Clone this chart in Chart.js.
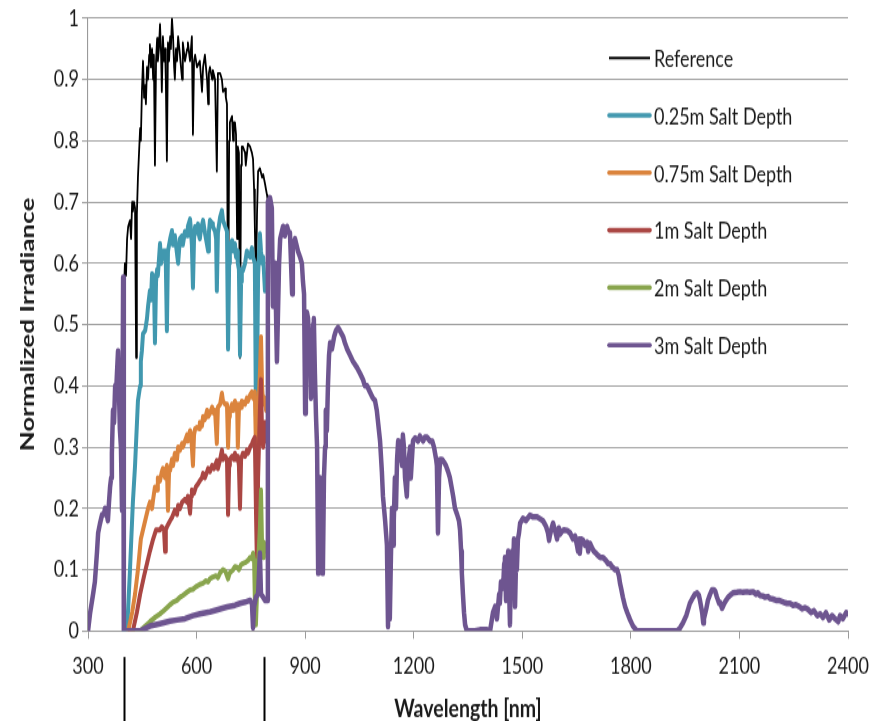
<!DOCTYPE html>
<html>
<head>
<meta charset="utf-8">
<script src="https://cdn.jsdelivr.net/npm/chart.js@4.4.1/dist/chart.umd.min.js"></script>
<style>
  html, body { margin: 0; padding: 0; background: #fff; overflow: hidden; }
  #outer { width: 881px; height: 721px; overflow: hidden; }
  #wrap { width: 881px; height: 550px; transform: scaleY(1.3109); transform-origin: 0 0; }
</style>
</head>
<body>
<div id="outer"><div id="wrap"><canvas id="c" width="881" height="550"></canvas></div></div>
<script>
// ---------- DATA ----------
const seriesLabels = ["Reference", "0.25m Salt Depth", "0.75m Salt Depth", "1m Salt Depth", "2m Salt Depth", "3m Salt Depth"];
const xTickLabels = ["300", "600", "900", "1200", "1500", "1800", "2100", "2400"];
const yTickLabels = ["0", "0.1", "0.2", "0.3", "0.4", "0.5", "0.6", "0.7", "0.8", "0.9", "1"];
const xTitle = "Wavelength [nm]";
const yTitle = "Normalized Irradiance";
const markerNm = [400, 785];

const refNm = [399,402,405,408,411,416,419,422,424,427,430,433,435,438,441,444,446,449,452,455,458,460,463,466,469,471,474,477,480,482,485,488,491,493,496,499,502,504,507,510,513,515,518,521,524,527,529,532,535,538,540,543,546,549,554,560,562,568,574,576,582,587,590,593,596,601,609,615,618,623,629,632,634,637,643,645,651,656,659,665,670,673,679,681,684,687,690,692,698,701,703,706,709,712,714,717,720,723,725,728,734,736,742,748,753,756,759,761,764,767,770,775,781,784,789,792,795,797];
const refVal = [0.55,0.60,0.58,0.64,0.66,0.67,0.64,0.70,0.685,0.70,0.69,0.446,0.68,0.74,0.78,0.82,0.80,0.88,0.93,0.87,0.89,0.86,0.92,0.90,0.94,0.957,0.92,0.95,0.90,0.94,0.76,0.93,0.967,0.93,0.95,0.99,0.94,0.88,0.97,0.93,0.95,0.90,0.767,0.96,0.93,0.97,0.95,1.0,0.97,0.92,0.90,0.95,0.93,0.97,0.94,0.90,0.96,0.93,0.95,0.96,0.93,0.97,0.81,0.93,0.94,0.92,0.93,0.88,0.92,0.94,0.90,0.86,0.91,0.92,0.90,0.915,0.90,0.75,0.91,0.91,0.90,0.88,0.885,0.87,0.86,0.458,0.80,0.83,0.84,0.80,0.83,0.83,0.81,0.64,0.79,0.78,0.446,0.76,0.79,0.79,0.78,0.76,0.795,0.79,0.78,0.77,0.72,0.66,0.56,0.68,0.75,0.755,0.74,0.745,0.73,0.72,0.71,0.70];

const s025Nm = [399,408,416,424,430,438,444,446,449,452,458,463,466,471,474,477,480,482,485,488,491,493,499,502,504,507,513,515,518,521,527,532,535,540,543,549,554,560,562,568,574,576,582,585,587,590,593,596,601,604,607,609,612,618,623,629,632,634,637,643,645,651,654,656,659,665,670,673,679,684,687,690,692,698,701,706,709,712,714,717,720,723,725,728,734,739,742,748,753,756,761,764,767,770,775,778,781,784,789,792,795];
const s025Val = [0.0,0.0,0.10,0.21,0.27,0.376,0.40,0.44,0.458,0.485,0.49,0.51,0.53,0.555,0.54,0.583,0.56,0.58,0.47,0.57,0.59,0.58,0.632,0.60,0.60,0.62,0.62,0.60,0.49,0.62,0.64,0.653,0.63,0.645,0.63,0.60,0.64,0.645,0.63,0.652,0.645,0.66,0.672,0.65,0.63,0.56,0.64,0.66,0.65,0.664,0.645,0.64,0.655,0.67,0.65,0.63,0.62,0.65,0.67,0.665,0.66,0.652,0.64,0.555,0.65,0.675,0.686,0.67,0.66,0.652,0.46,0.60,0.63,0.637,0.62,0.632,0.61,0.62,0.60,0.59,0.45,0.57,0.59,0.588,0.60,0.62,0.615,0.61,0.625,0.61,0.60,0.35,0.40,0.58,0.648,0.62,0.60,0.61,0.555,0.57,0.56];

const s075Nm = [411,422,430,438,446,458,466,471,477,480,485,491,493,499,504,507,513,518,521,524,527,532,535,540,546,549,554,560,562,568,574,576,582,585,590,593,596,601,607,609,615,618,623,629,632,637,643,648,651,656,659,665,670,673,679,684,687,690,692,698,701,706,709,712,714,717,720,723,725,734,739,742,748,753,756,761,764,767,770,775,778,781,784,789,792,795];
const s075Val = [0.0,0.03,0.06,0.10,0.15,0.18,0.20,0.21,0.20,0.215,0.235,0.23,0.25,0.245,0.26,0.265,0.25,0.27,0.197,0.26,0.262,0.28,0.27,0.29,0.28,0.30,0.295,0.306,0.30,0.31,0.32,0.31,0.327,0.32,0.27,0.32,0.33,0.332,0.33,0.34,0.335,0.35,0.345,0.36,0.35,0.355,0.365,0.355,0.36,0.306,0.365,0.37,0.388,0.375,0.37,0.37,0.30,0.35,0.36,0.37,0.36,0.375,0.36,0.37,0.30,0.36,0.37,0.365,0.375,0.37,0.38,0.375,0.385,0.39,0.38,0.39,0.30,0.22,0.35,0.42,0.48,0.40,0.37,0.38,0.36,0.37];

const s1Nm = [416,424,435,444,455,463,471,480,488,499,504,510,513,515,518,527,532,540,546,549,554,560,568,574,576,582,585,587,593,598,604,609,615,618,623,629,632,637,643,648,651,656,659,665,670,673,679,684,687,690,692,698,703,706,709,714,717,720,723,728,734,739,742,748,753,756,761,764,767,770,775,778,781,784,789,792,795];
const s1Val = [0.0,0.0,0.03,0.06,0.09,0.11,0.13,0.15,0.165,0.165,0.17,0.165,0.13,0.165,0.17,0.18,0.185,0.197,0.19,0.205,0.20,0.21,0.215,0.21,0.22,0.192,0.22,0.23,0.225,0.235,0.24,0.245,0.25,0.257,0.25,0.26,0.265,0.26,0.27,0.265,0.27,0.278,0.265,0.28,0.295,0.28,0.285,0.28,0.19,0.27,0.28,0.285,0.28,0.29,0.28,0.285,0.27,0.20,0.28,0.29,0.285,0.295,0.29,0.30,0.305,0.31,0.316,0.20,0.10,0.25,0.36,0.41,0.32,0.30,0.34,0.31,0.32];

const s2Nm = [424,444,458,471,485,499,507,518,527,535,546,554,562,571,582,590,598,609,618,626,632,637,645,654,659,665,673,679,687,692,701,706,712,717,723,728,736,742,748,753,756,759,761,764,767,770,775,778,781,784,786,789,792,795];
const s2Val = [0.0,0.0,0.008,0.015,0.022,0.028,0.032,0.038,0.043,0.047,0.05,0.055,0.058,0.062,0.067,0.068,0.072,0.076,0.078,0.082,0.08,0.085,0.088,0.09,0.087,0.095,0.10,0.098,0.085,0.095,0.10,0.105,0.104,0.10,0.108,0.11,0.112,0.115,0.12,0.118,0.127,0.115,0.05,0.01,0.06,0.11,0.17,0.23,0.14,0.12,0.145,0.13,0.14,0.14];

const s3Nm = [300,306,314,319,325,328,333,339,344,347,352,355,358,361,364,366,369,372,375,377,380,383,386,388,391,394,397,399,416,444,471,499,527,546,568,590,609,637,659,684,706,720,734,748,753,756,759,764,770,775,778,784,789,795,797,803,808,811,817,822,828,831,839,844,850,855,858,864,866,872,880,886,891,894,897,900,902,905,908,913,916,919,922,924,927,930,933,936,938,941,944,946,949,952,955,957,960,963,966,969,974,980,985,991,996,1005,1010,1016,1024,1032,1043,1052,1060,1065,1071,1079,1087,1093,1098,1107,1112,1115,1121,1126,1129,1132,1134,1137,1140,1143,1145,1148,1151,1154,1157,1159,1162,1168,1170,1173,1176,1181,1184,1190,1192,1198,1204,1212,1217,1226,1231,1237,1245,1251,1256,1262,1264,1267,1270,1273,1278,1284,1289,1295,1300,1306,1309,1314,1320,1325,1328,1331,1333,1336,1339,1342,1347,1369,1383,1403,1411,1419,1425,1430,1436,1438,1441,1447,1450,1452,1455,1461,1466,1469,1472,1474,1477,1480,1483,1485,1488,1491,1494,1502,1510,1521,1530,1541,1549,1557,1566,1571,1574,1577,1582,1585,1590,1596,1601,1604,1610,1615,1624,1632,1640,1646,1651,1654,1657,1659,1662,1668,1673,1679,1682,1687,1693,1698,1706,1715,1723,1731,1737,1742,1748,1756,1762,1767,1770,1773,1778,1784,1790,1798,1806,1817,1853,1895,1928,1936,1944,1953,1958,1963,1972,1977,1983,1988,1991,1997,2000,2002,2008,2013,2019,2024,2030,2033,2038,2044,2047,2052,2058,2063,2069,2074,2082,2093,2102,2110,2121,2129,2138,2146,2151,2157,2165,2171,2179,2185,2193,2201,2209,2218,2226,2231,2240,2248,2256,2265,2273,2281,2290,2298,2306,2315,2323,2331,2339,2348,2356,2364,2373,2378,2386,2395,2400];
const s3Val = [0.0,0.03,0.06,0.08,0.13,0.16,0.175,0.19,0.19,0.20,0.19,0.18,0.21,0.235,0.25,0.29,0.36,0.34,0.40,0.38,0.42,0.457,0.38,0.33,0.30,0.197,0.577,0.0,0.0,0.0,0.008,0.012,0.016,0.018,0.02,0.025,0.028,0.031,0.035,0.039,0.042,0.045,0.047,0.05,0.045,0.005,0.04,0.055,0.06,0.127,0.06,0.055,0.05,0.05,0.70,0.707,0.69,0.53,0.60,0.44,0.60,0.64,0.66,0.645,0.66,0.65,0.65,0.55,0.63,0.64,0.62,0.61,0.60,0.57,0.55,0.355,0.50,0.52,0.51,0.45,0.38,0.40,0.50,0.51,0.42,0.35,0.30,0.094,0.20,0.25,0.12,0.20,0.094,0.25,0.30,0.36,0.327,0.40,0.45,0.47,0.46,0.48,0.49,0.495,0.49,0.48,0.47,0.46,0.45,0.44,0.43,0.42,0.41,0.40,0.40,0.39,0.38,0.376,0.36,0.31,0.26,0.22,0.18,0.14,0.007,0.10,0.02,0.12,0.20,0.14,0.18,0.25,0.20,0.28,0.31,0.28,0.30,0.27,0.32,0.30,0.25,0.22,0.27,0.30,0.25,0.31,0.315,0.31,0.318,0.31,0.316,0.316,0.31,0.31,0.30,0.28,0.27,0.16,0.25,0.28,0.28,0.275,0.27,0.26,0.25,0.23,0.22,0.20,0.19,0.18,0.165,0.13,0.094,0.06,0.03,0.01,0.0,0.0,0.002,0.002,0.0,0.03,0.04,0.02,0.06,0.045,0.08,0.07,0.11,0.12,0.05,0.13,0.01,0.11,0.13,0.09,0.15,0.04,0.12,0.10,0.15,0.16,0.176,0.184,0.18,0.189,0.186,0.186,0.183,0.18,0.17,0.16,0.148,0.158,0.17,0.176,0.165,0.15,0.168,0.158,0.163,0.165,0.164,0.16,0.15,0.155,0.14,0.13,0.15,0.127,0.15,0.148,0.14,0.145,0.13,0.143,0.135,0.13,0.125,0.12,0.12,0.115,0.11,0.11,0.105,0.10,0.10,0.09,0.078,0.07,0.055,0.04,0.03,0.018,0.008,0.0,0.0,0.0,0.0,0.005,0.013,0.025,0.035,0.045,0.055,0.06,0.062,0.058,0.05,0.03,0.013,0.02,0.035,0.05,0.06,0.067,0.067,0.065,0.055,0.045,0.046,0.037,0.045,0.05,0.055,0.058,0.062,0.063,0.064,0.063,0.064,0.063,0.064,0.06,0.062,0.058,0.057,0.055,0.056,0.053,0.052,0.05,0.05,0.048,0.046,0.045,0.045,0.042,0.043,0.04,0.036,0.038,0.035,0.03,0.033,0.025,0.028,0.022,0.03,0.018,0.025,0.02,0.015,0.025,0.02,0.03,0.028];

// ---------- CHART ----------
const FONT = "Lato, 'Open Sans', sans-serif";
const colors = ["#000000", "#4198AF", "#DB843D", "#AA4643", "#89A54E", "#6E5590"];
const widths = [1.8, 4, 4, 4, 4, 4.5];
const nmSets = [refNm, s025Nm, s075Nm, s1Nm, s2Nm, s3Nm];
const valSets = [refVal, s025Val, s075Val, s1Val, s2Val, s3Val];
const SY = 1.3109; // vertical stretch applied by CSS

const datasets = seriesLabels.map((lab, i) => ({
  label: lab,
  data: nmSets[i].map((x, j) => ({ x: x, y: valSets[i][j] })),
  borderColor: colors[i],
  backgroundColor: colors[i],
  borderWidth: widths[i],
  pointRadius: 0,
  tension: 0,
  fill: false,
  borderJoinStyle: 'round',
  borderCapStyle: 'round',
  order: seriesLabels.length - 1 - i
}));

const extrasPlugin = {
  id: 'extras',
  afterDraw(chart) {
    const ctx = chart.ctx;
    const xs = chart.scales.x;
    ctx.save();
    // marker lines below the axis
    ctx.strokeStyle = '#000';
    ctx.lineWidth = 2;
    markerNm.forEach(v => {
      const px = Math.round(xs.getPixelForValue(v)) + 0.5;
      ctx.beginPath();
      ctx.moveTo(px, 657 / SY);
      ctx.lineTo(px, chart.height);
      ctx.stroke();
    });
    // legend inside plot
    const lx0 = 609, lx1 = 650, tx = 654, y0 = 58 / SY, dy = 57.4 / SY;
    ctx.font = "18px " + FONT;
    ctx.textBaseline = 'middle';
    ctx.textAlign = 'left';
    chart.data.datasets.forEach((ds, i) => {
      const y = y0 + i * dy;
      ctx.strokeStyle = ds.borderColor;
      ctx.lineWidth = i === 0 ? 1.8 : 3.6;
      ctx.lineCap = i === 0 ? 'butt' : 'round';
      ctx.beginPath();
      ctx.moveTo(lx0, y);
      ctx.lineTo(lx1, y);
      ctx.stroke();
      ctx.fillStyle = '#1a1a1a';
      ctx.fillText(ds.label, tx, y + 1);
    });
    ctx.restore();
  }
};

new Chart(document.getElementById('c'), {
  type: 'line',
  data: { datasets: datasets },
  options: {
    responsive: false,
    maintainAspectRatio: false,
    devicePixelRatio: 1,
    animation: false,
    events: [],
    layout: { padding: { top: 13, right: 33, left: 0, bottom: 0 } },
    plugins: { legend: { display: false }, tooltip: { enabled: false } },
    scales: {
      x: {
        type: 'linear',
        min: 300, max: 2400,
        afterFit: s => { s.height = 68.7; },
        afterBuildTicks: s => { s.ticks = xTickLabels.map(t => ({ value: Number(t) })); },
        ticks: {
          callback: (v, i) => xTickLabels[i],
          font: { family: FONT, size: 18 },
          color: '#1a1a1a',
          padding: 10.5,
          maxRotation: 0,
          autoSkip: false
        },
        grid: { drawOnChartArea: false, drawTicks: true, tickLength: 6, color: '#9a9a9a', lineWidth: 1 },
        border: { display: true, color: '#9a9a9a', width: 1.1 },
        title: { display: true, text: xTitle, font: { family: FONT, size: 19.5, weight: 'bold', lineHeight: 1.0 }, color: '#1a1a1a', padding: { top: 0, bottom: 0 } }
      },
      y: {
        min: 0, max: 1,
        afterFit: s => { s.width = 88; },
        afterBuildTicks: s => { s.ticks = yTickLabels.map(t => ({ value: Number(t) })); },
        ticks: {
          callback: (v, i) => yTickLabels[i],
          font: { family: FONT, size: 18 },
          color: '#1a1a1a',
          padding: 3,
          autoSkip: false
        },
        grid: { color: '#a0a0a0', lineWidth: 1.1, tickLength: 6, drawTicks: true },
        border: { display: true, color: '#9a9a9a', width: 1.1 },
        title: { display: true, text: yTitle, font: { family: FONT, size: 19.8, weight: 'bold' }, color: '#1a1a1a', padding: { top: 16, bottom: 0 } }
      }
    }
  },
  plugins: [extrasPlugin]
});
</script>
</body>
</html>
